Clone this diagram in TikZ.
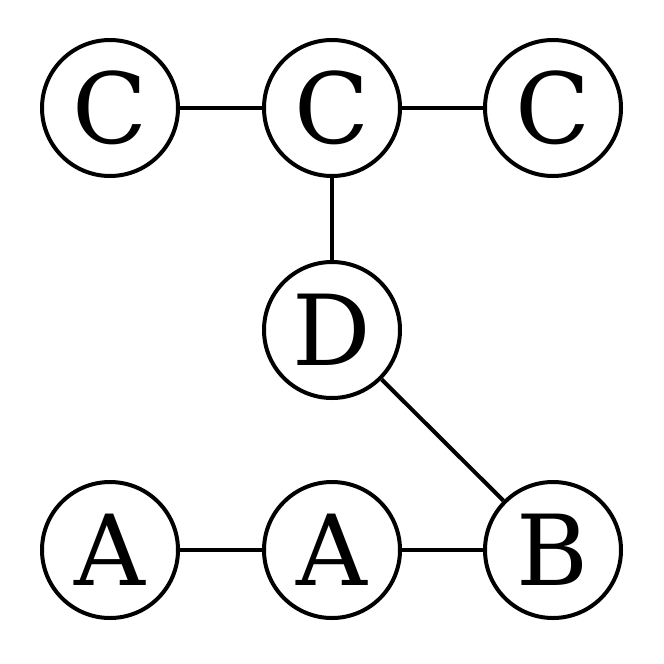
\documentclass[tikz,border=0pt]{standalone}
\usepackage{fontspec}
\setmainfont{DejaVu Serif}
\begin{document}
\begin{tikzpicture}[x=1pt,y=-1pt,
  atom/.style={circle,draw,line width=4pt,minimum size=136pt,inner sep=0pt,font=\fontsize{98}{98}\selectfont},
  bond/.style={line width=4pt}]
\useasboundingbox (0,0) rectangle (664,664);
\node[atom] (c1) at (110,108) {C};
\node[atom] (c2) at (332,108) {C};
\node[atom] (c3) at (553,108) {C};
\node[atom] (d) at (332,330) {D};
\node[atom] (a1) at (110,550) {A};
\node[atom] (a2) at (332,550) {A};
\node[atom] (b) at (553,550) {B};
\draw[bond] (c1)--(c2);
\draw[bond] (c2)--(c3);
\draw[bond] (c2)--(d);
\draw[bond] (d)--(b);
\draw[bond] (a1)--(a2);
\draw[bond] (a2)--(b);
\end{tikzpicture}
\end{document}
